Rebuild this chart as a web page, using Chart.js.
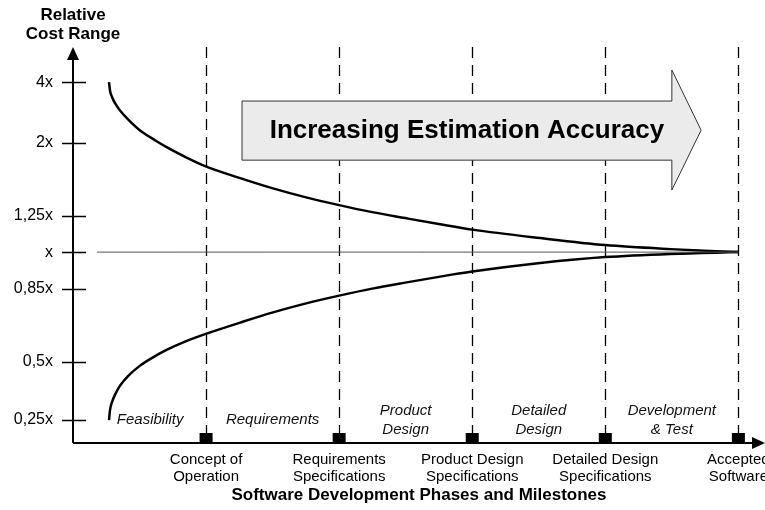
<!DOCTYPE html>
<html>
<head>
<meta charset="utf-8">
<script src="https://cdn.jsdelivr.net/npm/chart.js@4/dist/chart.umd.min.js"></script>
<style>
  html, body { margin: 0; padding: 0; background: #fff; }
</style>
</head>
<body>
<canvas id="idCone" width="765" height="510"></canvas>
<script>
// milestones on the x axis (phase boundaries)
const milestones = [['Concept of', 'Operation'], ['Requirements', 'Specifications'], ['Product Design', 'Specifications'], ['Detailed Design', 'Specifications'], ['Accepted', 'Software']];
const milestoneX = [1, 2, 3, 4, 5];

// phases between milestones
const phases = [['Feasibility'], ['Requirements'], ['Product', 'Design'], ['Detailed', 'Design'], ['Development', '& Test']];
const phaseX = [0.58, 1.5, 2.5, 3.5, 4.5];

// y axis is schematic: each label sits on its own level
const yTickLabels = ['4x', '2x', '1,25x', 'x', '0,85x', '0,5x', '0,25x'];
const yTickLevels = [4.65, 3, 1, 0, -1, -3, -4.6];

// the cone
const curveX = [0.2707, 0.2782, 0.2932, 0.3158, 0.3534, 0.4135, 0.5038, 0.6165, 0.7068, 0.8421, 0.9925, 1.2556, 1.4962, 1.7444, 2, 2.2481, 2.4962, 2.7594, 3, 3.5113, 4, 4.4887, 5];
const upperY = [4.658, 4.422, 4.252, 4.082, 3.879, 3.636, 3.334, 3.066, 2.868, 2.611, 2.356, 2.027, 1.753, 1.507, 1.288, 1.096, 0.932, 0.762, 0.616, 0.384, 0.192, 0.082, 0];
const lowerY = [-4.603, -4.329, -4.11, -3.904, -3.658, -3.397, -3.11, -2.849, -2.671, -2.452, -2.247, -1.932, -1.658, -1.411, -1.192, -1.0, -0.836, -0.671, -0.534, -0.301, -0.137, -0.049, 0];
const centerX = [0.18, 5];
const centerY = [0, 0];

const FONT = "'Liberation Sans', Arial, sans-serif";

function pts(xs, ys) {
    return xs.map((x, i) => ({x: x, y: ys[i]}));
}

const conePlugin = {
    id: 'cone',
    beforeDatasetsDraw(chart) {
        const ctx = chart.ctx;
        const xs = chart.scales.x, ys = chart.scales.y;
        const area = chart.chartArea;
        ctx.save();
        // dashed milestone lines
        ctx.strokeStyle = '#000';
        ctx.lineWidth = 1.3;
        ctx.setLineDash([11, 7]);
        for (let m of milestoneX) {
            let px = Math.round(xs.getPixelForValue(m)) + 0.5;
            ctx.beginPath();
            ctx.moveTo(px, area.top);
            ctx.lineTo(px, area.bottom - 10);
            ctx.stroke();
        }
        ctx.setLineDash([]);

        // big arrow
        let x0 = xs.getPixelForValue(1.27), xb = xs.getPixelForValue(4.5), xt = xs.getPixelForValue(4.72);
        let rt = ys.getPixelForValue(4.14), rb = ys.getPixelForValue(2.52);
        let ht = ys.getPixelForValue(4.99), hb = ys.getPixelForValue(1.70), hc = ys.getPixelForValue(3.34);
        ctx.beginPath();
        ctx.moveTo(x0, rt);
        ctx.lineTo(xb, rt);
        ctx.lineTo(xb, ht);
        ctx.lineTo(xt, hc);
        ctx.lineTo(xb, hb);
        ctx.lineTo(xb, rb);
        ctx.lineTo(x0, rb);
        ctx.closePath();
        ctx.fillStyle = '#ebebeb';
        ctx.fill();
        ctx.strokeStyle = '#333';
        ctx.lineWidth = 1;
        ctx.stroke();
        ctx.fillStyle = '#000';
        ctx.font = 'bold 26px ' + FONT;
        ctx.textAlign = 'center';
        ctx.textBaseline = 'middle';
        ctx.fillText('Increasing Estimation Accuracy', xs.getPixelForValue(2.96), hc + 1);
        ctx.restore();
    },
    afterDraw(chart) {
        const ctx = chart.ctx;
        const xs = chart.scales.x, ys = chart.scales.y;
        const area = chart.chartArea;
        ctx.save();
        ctx.strokeStyle = '#000';
        ctx.fillStyle = '#000';

        // y axis with arrow head
        ctx.lineWidth = 2;
        ctx.beginPath();
        ctx.moveTo(area.left, area.bottom);
        ctx.lineTo(area.left, area.top + 10);
        ctx.stroke();
        ctx.beginPath();
        ctx.moveTo(area.left, area.top);
        ctx.lineTo(area.left - 6, area.top + 13);
        ctx.lineTo(area.left + 6, area.top + 13);
        ctx.closePath();
        ctx.fill();

        // x axis with arrow head
        ctx.beginPath();
        ctx.moveTo(area.left, area.bottom);
        ctx.lineTo(area.right - 10, area.bottom);
        ctx.stroke();
        ctx.beginPath();
        ctx.moveTo(area.right, area.bottom);
        ctx.lineTo(area.right - 13, area.bottom - 6);
        ctx.lineTo(area.right - 13, area.bottom + 6);
        ctx.closePath();
        ctx.fill();

        // tick crosses
        ctx.lineWidth = 1.5;
        for (let v of yTickLevels) {
            let py = Math.round(ys.getPixelForValue(v)) + 0.5;
            ctx.beginPath();
            ctx.moveTo(area.left - 11, py);
            ctx.lineTo(area.left + 13, py);
            ctx.stroke();
        }

        // milestone squares
        for (let m of milestoneX) {
            let px = xs.getPixelForValue(m);
            ctx.fillRect(px - 6.5, area.bottom - 10, 13, 10);
        }

        // phase labels
        ctx.font = 'italic 15px ' + FONT;
        ctx.textAlign = 'center';
        ctx.textBaseline = 'middle';
        ctx.fillStyle = '#111';
        const midY = ys.getPixelForValue(-4.6);
        phases.forEach((lines, i) => {
            let px = xs.getPixelForValue(phaseX[i]);
            let top = midY - (lines.length - 1) * 19 / 2;
            lines.forEach((t, j) => ctx.fillText(t, px, top + j * 19));
        });

        // y axis title
        ctx.fillStyle = '#000';
        ctx.font = 'bold 17px ' + FONT;
        ctx.fillText('Relative', area.left, 15);
        ctx.fillText('Cost Range', area.left, 34);
        ctx.restore();
    }
};

var ctx = document.getElementById('idCone').getContext('2d');
var coneChart = new Chart(ctx, {
    type: 'line',
    data: {
        datasets: [
            {
                label: 'center',
                data: pts(centerX, centerY),
                borderColor: '#555',
                borderWidth: 1,
                pointRadius: 0
            },
            {
                label: 'upper',
                data: pts(curveX, upperY),
                borderColor: '#000',
                borderWidth: 2.5,
                pointRadius: 0,
                cubicInterpolationMode: 'monotone'
            },
            {
                label: 'lower',
                data: pts(curveX, lowerY),
                borderColor: '#000',
                borderWidth: 2.5,
                pointRadius: 0,
                cubicInterpolationMode: 'monotone'
            }
        ]
    },
    options: {
        responsive: false,
        animation: false,
        devicePixelRatio: 1,
        layout: { padding: { top: 47, right: 0, left: 0, bottom: 0 } },
        plugins: {
            legend: { display: false },
            tooltip: { enabled: false }
        },
        scales: {
            x: {
                type: 'linear',
                min: 0,
                max: 5.2,
                grid: { display: false },
                border: { display: false },
                afterBuildTicks: (s) => { s.ticks = milestoneX.map(v => ({value: v})); },
                afterFit: (s) => { s.height = 67; s.paddingLeft = 0; s.paddingRight = 0; },
                ticks: {
                    autoSkip: false,
                    maxRotation: 0,
                    padding: 0,
                    color: '#000',
                    font: { family: FONT, size: 15, lineHeight: 1.13 },
                    callback: (v, i) => milestones[i]
                },
                title: {
                    display: true,
                    text: 'Software Development Phases and Milestones',
                    color: '#000',
                    font: { family: FONT, size: 17, weight: 'bold' },
                    padding: { top: 0, bottom: 4 }
                }
            },
            y: {
                type: 'linear',
                min: -5.23,
                max: 5.62,
                grid: { display: false },
                border: { display: false },
                afterBuildTicks: (s) => { s.ticks = yTickLevels.map(v => ({value: v})); },
                afterFit: (s) => { s.width = 73; s.paddingTop = 0; s.paddingBottom = 0; },
                ticks: {
                    padding: 12,
                    color: '#000',
                    font: { family: FONT, size: 16 },
                    callback: (v, i) => yTickLabels[i]
                }
            }
        }
    },
    plugins: [conePlugin]
});
</script>
</body>
</html>
